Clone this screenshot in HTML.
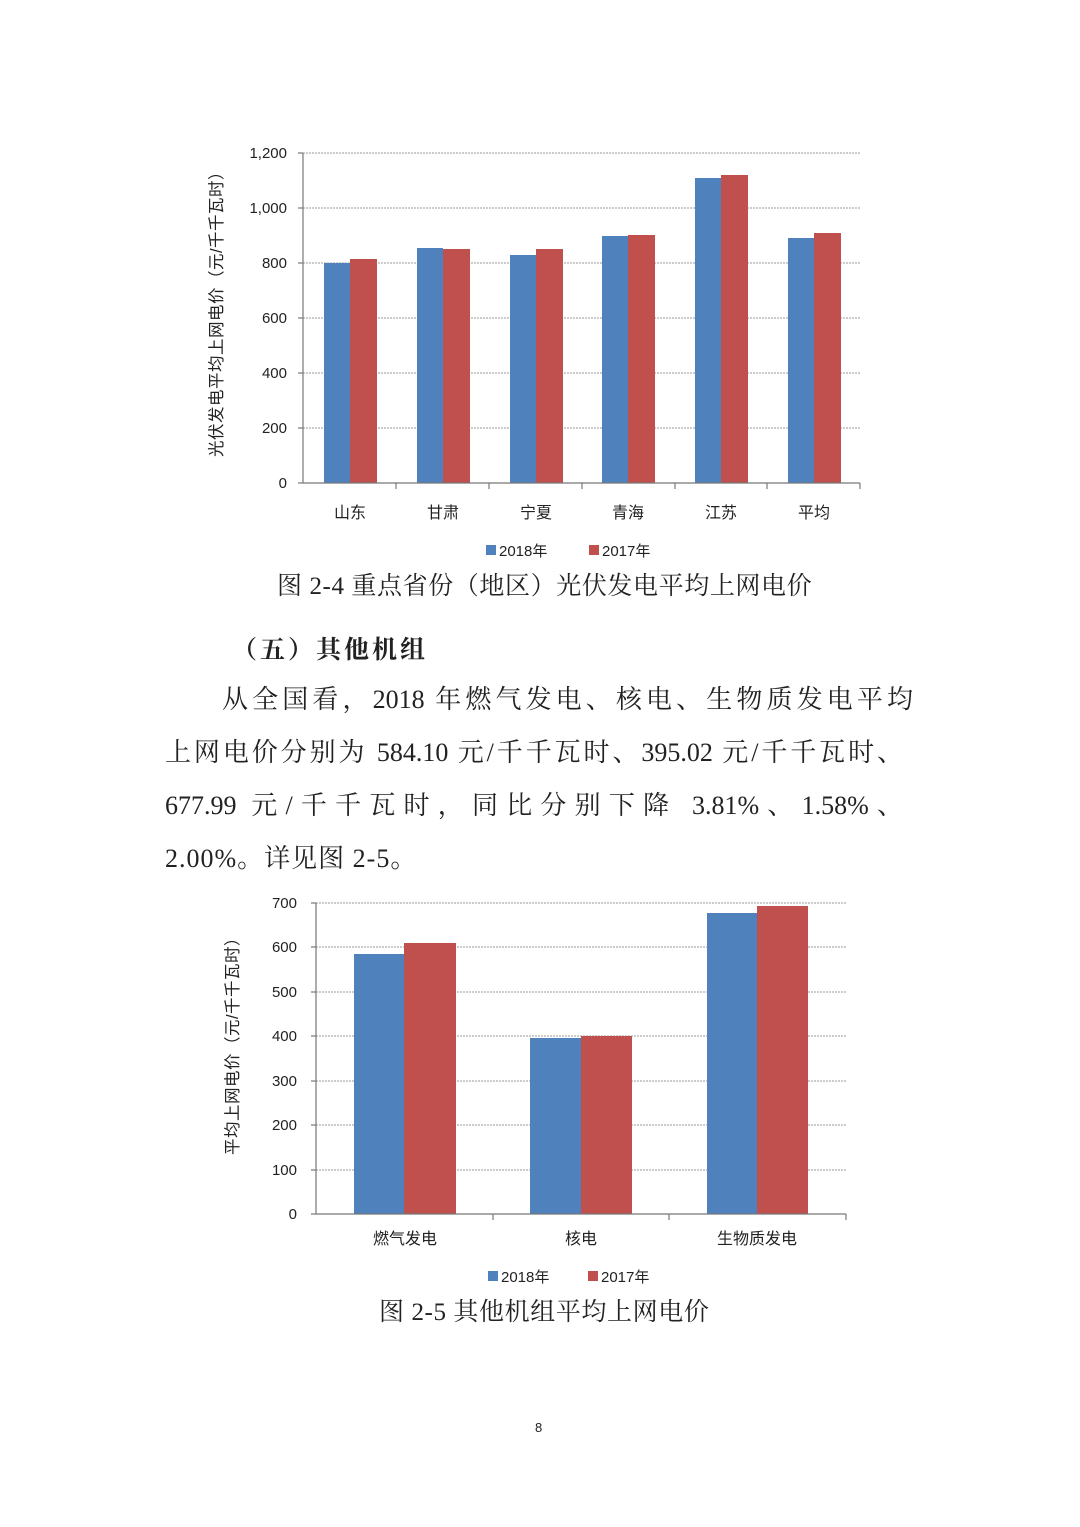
<!DOCTYPE html>
<html><head><meta charset="utf-8">
<style>
html,body{margin:0;padding:0;background:#fff;}
body{width:1080px;height:1527px;position:relative;overflow:hidden;font-family:"Liberation Serif","Noto Serif CJK SC",serif;color:#222;}
.ln{position:absolute;font-size:26px;white-space:nowrap;line-height:30px;}
.j{text-align:justify;text-align-last:justify;}
svg text{font-family:"Liberation Sans","Noto Sans CJK SC",sans-serif;}
</style></head><body>

<svg width="1080" height="1527" style="position:absolute;left:0;top:0">
<g stroke="#999" stroke-dasharray="2,1" stroke-width="1">
<line x1="303" y1="153" x2="860" y2="153"/>
<line x1="303" y1="208" x2="860" y2="208"/>
<line x1="303" y1="263" x2="860" y2="263"/>
<line x1="303" y1="318" x2="860" y2="318"/>
<line x1="303" y1="373" x2="860" y2="373"/>
<line x1="303" y1="428" x2="860" y2="428"/>
</g>
<g fill="#4f81bd">
<rect x="324" y="263" width="26" height="220"/>
<rect x="417" y="248" width="26" height="235"/>
<rect x="510" y="255" width="26" height="228"/>
<rect x="602" y="236" width="26" height="247"/>
<rect x="695" y="178" width="26" height="305"/>
<rect x="788" y="238" width="26" height="245"/>
</g>
<g fill="#c0504d">
<rect x="350" y="259" width="27" height="224"/>
<rect x="443" y="249" width="27" height="234"/>
<rect x="536" y="249" width="27" height="234"/>
<rect x="628" y="235" width="27" height="248"/>
<rect x="721" y="175" width="27" height="308"/>
<rect x="814" y="233" width="27" height="250"/>
</g>
<g stroke="#777" stroke-width="1.2">
<line x1="303" y1="153" x2="303" y2="483"/>
<line x1="303" y1="483" x2="860" y2="483"/>
<line x1="298" y1="153" x2="303" y2="153"/><line x1="298" y1="208" x2="303" y2="208"/><line x1="298" y1="263" x2="303" y2="263"/><line x1="298" y1="318" x2="303" y2="318"/><line x1="298" y1="373" x2="303" y2="373"/><line x1="298" y1="428" x2="303" y2="428"/><line x1="298" y1="483" x2="303" y2="483"/>
<line x1="396" y1="483" x2="396" y2="489"/><line x1="489" y1="483" x2="489" y2="489"/><line x1="582" y1="483" x2="582" y2="489"/><line x1="675" y1="483" x2="675" y2="489"/><line x1="767" y1="483" x2="767" y2="489"/><line x1="860" y1="483" x2="860" y2="489"/>
</g>
<g font-size="15" fill="#222" text-anchor="end">
<text x="287" y="158">1,200</text><text x="287" y="213">1,000</text><text x="287" y="268">800</text><text x="287" y="323">600</text><text x="287" y="378">400</text><text x="287" y="433">200</text><text x="287" y="488">0</text>
</g>
<g font-size="16" fill="#222" text-anchor="middle">
<text x="350" y="518">山东</text><text x="443" y="518">甘肃</text><text x="536" y="518">宁夏</text><text x="628" y="518">青海</text><text x="721" y="518">江苏</text><text x="814" y="518">平均</text>
</g>
<text transform="translate(222,310) rotate(-90)" font-size="16.5" fill="#222" text-anchor="middle" letter-spacing="0.5">光伏发电平均上网电价（元/千千瓦时）</text>
<rect x="486" y="545" width="10" height="10" fill="#4f81bd"/><text x="499" y="556" font-size="15" fill="#222">2018年</text>
<rect x="589" y="545" width="10" height="10" fill="#c0504d"/><text x="602" y="556" font-size="15" fill="#222">2017年</text>

<g stroke="#999" stroke-dasharray="2,1" stroke-width="1">
<line x1="316" y1="903" x2="846" y2="903"/>
<line x1="316" y1="947" x2="846" y2="947"/>
<line x1="316" y1="992" x2="846" y2="992"/>
<line x1="316" y1="1036" x2="846" y2="1036"/>
<line x1="316" y1="1081" x2="846" y2="1081"/>
<line x1="316" y1="1125" x2="846" y2="1125"/>
<line x1="316" y1="1170" x2="846" y2="1170"/>
</g>
<g fill="#4f81bd">
<rect x="354" y="954" width="50" height="260"/>
<rect x="530" y="1038" width="51" height="176"/>
<rect x="707" y="913" width="50" height="301"/>
</g>
<g fill="#c0504d">
<rect x="404" y="943" width="52" height="271"/>
<rect x="581" y="1036" width="51" height="178"/>
<rect x="757" y="906" width="51" height="308"/>
</g>
<g stroke="#777" stroke-width="1.2">
<line x1="316" y1="903" x2="316" y2="1214"/>
<line x1="316" y1="1214" x2="846" y2="1214"/>
<line x1="311" y1="903" x2="316" y2="903"/><line x1="311" y1="947" x2="316" y2="947"/><line x1="311" y1="992" x2="316" y2="992"/><line x1="311" y1="1036" x2="316" y2="1036"/><line x1="311" y1="1081" x2="316" y2="1081"/><line x1="311" y1="1125" x2="316" y2="1125"/><line x1="311" y1="1170" x2="316" y2="1170"/><line x1="311" y1="1214" x2="316" y2="1214"/>
<line x1="493" y1="1214" x2="493" y2="1220"/><line x1="669" y1="1214" x2="669" y2="1220"/><line x1="846" y1="1214" x2="846" y2="1220"/>
</g>
<g font-size="15" fill="#222" text-anchor="end">
<text x="297" y="908">700</text><text x="297" y="952">600</text><text x="297" y="997">500</text><text x="297" y="1041">400</text><text x="297" y="1086">300</text><text x="297" y="1130">200</text><text x="297" y="1175">100</text><text x="297" y="1219">0</text>
</g>
<g font-size="16" fill="#222" text-anchor="middle">
<text x="405" y="1244">燃气发电</text><text x="581" y="1244">核电</text><text x="757" y="1244">生物质发电</text>
</g>
<text transform="translate(238,1042) rotate(-90)" font-size="16.5" fill="#222" text-anchor="middle" letter-spacing="0.5">平均上网电价（元/千千瓦时）</text>
<rect x="488" y="1271" width="10" height="10" fill="#4f81bd"/><text x="501" y="1282" font-size="15" fill="#222">2018年</text>
<rect x="588" y="1271" width="10" height="10" fill="#c0504d"/><text x="601" y="1282" font-size="15" fill="#222">2017年</text>
</svg>

<div class="ln" style="left:277px;top:572px;font-size:25px;letter-spacing:0.6px;">图 2-4 重点省份（地区）光伏发电平均上网电价</div>
<div class="ln" style="left:232px;top:633px;font-weight:bold;font-family:'Noto Serif CJK SC','Liberation Serif',serif;font-size:25px;letter-spacing:3px;">（五）其他机组</div>
<div class="ln j" style="left:222px;top:685px;width:691px;">从全国看，2018 年燃气发电、核电、生物质发电平均</div>
<div class="ln j" style="left:165px;top:738px;width:738px;">上网电价分别为 584.10 元/千千瓦时、395.02 元/千千瓦时、</div>
<div class="ln j" style="left:165px;top:791px;width:738px;">677.99 元/千千瓦时，同比分别下降 3.81%、1.58%、</div>
<div class="ln" style="left:165px;top:844px;letter-spacing:1px;">2.00%。详见图 2-5。</div>
<div class="ln" style="left:379px;top:1298px;font-size:25px;letter-spacing:0.6px;">图 2-5 其他机组平均上网电价</div>
<div class="ln" style="left:535px;top:1413px;font-size:13px;font-family:'Liberation Sans',sans-serif;">8</div>
</body></html>
